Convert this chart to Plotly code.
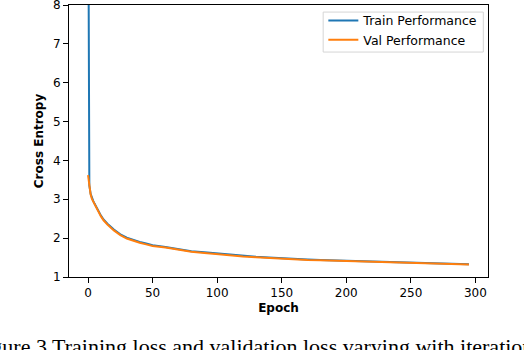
import plotly.graph_objects as go

# values
epochs = [0, 1, 2, 3, 4, 5, 6, 8, 10, 12, 15, 20, 25, 30, 35, 40, 45, 50,
          60, 70, 80, 90, 100, 110, 120, 130, 140, 150, 160, 170, 180, 190,
          200, 210, 220, 230, 240, 250, 260, 270, 280, 290, 295]
train_loss = [12.5, 3.36, 3.14, 3.03, 2.96, 2.89, 2.82, 2.69, 2.58, 2.48, 2.37,
              2.22, 2.10, 2.01, 1.95, 1.90, 1.86, 1.82, 1.775, 1.725, 1.665,
              1.635, 1.605, 1.565, 1.54, 1.52, 1.50, 1.48, 1.465, 1.45, 1.44,
              1.43, 1.42, 1.41, 1.40, 1.39, 1.38, 1.37, 1.365, 1.36, 1.35,
              1.34, 1.33]
val_loss = [3.62, 3.30, 3.12, 3.01, 2.94, 2.87, 2.80, 2.67, 2.56, 2.46, 2.35,
            2.20, 2.08, 1.99, 1.93, 1.88, 1.84, 1.80, 1.76, 1.71, 1.65, 1.62,
            1.59, 1.55, 1.53, 1.51, 1.49, 1.47, 1.455, 1.44, 1.43, 1.42, 1.41,
            1.40, 1.39, 1.38, 1.37, 1.36, 1.355, 1.35, 1.34, 1.33, 1.32]
x_ticks = [0, 50, 100, 150, 200, 250, 300]
y_ticks = [1, 2, 3, 4, 5, 6, 7, 8]
caption = "Figure 3 Training loss and validation loss varying with iterations"

fig = go.Figure()
fig.add_trace(go.Scatter(x=epochs, y=train_loss, mode="lines", name="Train Performance",
                         line=dict(color="#1f77b4", width=2)))
fig.add_trace(go.Scatter(x=epochs, y=val_loss, mode="lines", name="Val Performance",
                         line=dict(color="#ff7f0e", width=2)))

axis_style = dict(showline=True, linecolor="black", linewidth=1, mirror=True,
                  ticks="outside", ticklen=5, tickwidth=1, tickcolor="black",
                  showgrid=False, zeroline=False, automargin=False,
                  ticklabeloverflow="allow",
                  tickfont=dict(family="DejaVu Sans", size=12, color="black"))

fig.update_layout(
    width=524, height=350,
    margin=dict(l=69, r=36, t=5, b=73),
    paper_bgcolor="white", plot_bgcolor="white",
    font=dict(family="DejaVu Sans", size=12, color="black"),
    xaxis=dict(range=[-14.75, 309.75], tickvals=x_ticks,
               title=dict(text="<b>Epoch</b>", standoff=4,
                          font=dict(family="DejaVu Sans", size=12)),
               **axis_style),
    yaxis=dict(range=[1, 8], tickvals=y_ticks,
               title=dict(text="<b>Cross Entropy</b>", standoff=6,
                          font=dict(family="DejaVu Sans", size=12)),
               **axis_style),
    # legend frame drawn as a shape so it can sit tighter than plotly's padding
    legend=dict(x=0.607, y=0.997, xanchor="left", yanchor="top",
                bgcolor="rgba(0,0,0,0)", borderwidth=0,
                font=dict(family="DejaVu Sans", size=12.5)),
    showlegend=True,
)

fig.add_shape(type="rect", xref="paper", yref="paper",
              x0=0.6066, x1=0.9888, y0=0.827, y1=0.974,
              line=dict(color="#d5d5d5", width=1), fillcolor="white",
              layer="below")

# caption of the paper figure, cut off by the picture's edges
fig.add_annotation(text=caption, xref="paper", yref="paper",
                   x=-0.235, y=-0.203, xanchor="left", yanchor="top",
                   showarrow=False,
                   font=dict(family="Liberation Serif", size=22, color="black"))

fig.write_html("out.html", config={"displayModeBar": False},
               post_script="document.body.style.margin='0';")
